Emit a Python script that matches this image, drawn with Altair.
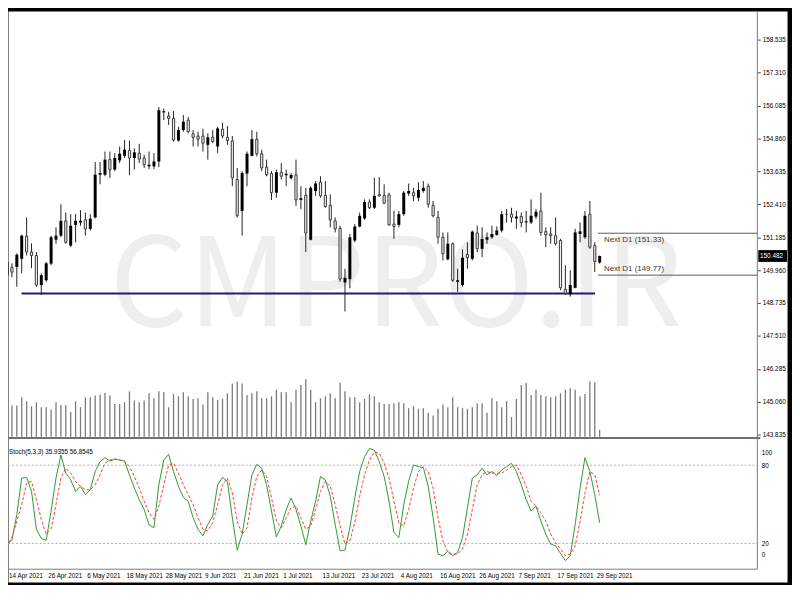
import altair as alt
import pandas as pd

# ---------------- data (GBPJPY, D1) ----------------
OPEN = [149.77, 150.06, 150.07, 150.38, 151.22, 150.63, 150.50, 149.40, 149.58, 150.20,
        151.09, 151.24, 151.79, 150.87, 151.64, 151.73, 151.83, 151.49, 151.92, 153.51,
        153.51, 154.07, 153.70, 154.04, 154.21, 154.41, 154.13, 154.31, 154.13, 153.82,
        153.82, 154.00, 155.83, 155.69, 155.60, 154.78, 155.17, 155.54, 155.03, 154.95,
        154.95, 154.62, 154.90, 154.56, 155.20, 154.90, 154.77, 153.33, 152.16, 153.55,
        154.21, 154.83, 154.29, 153.79, 153.55, 152.84, 153.60, 153.49, 153.38, 153.50,
        152.57, 152.74, 151.09, 152.90, 153.23, 152.74, 152.37, 151.79, 151.51, 149.50,
        149.62, 151.06, 151.58, 151.88, 152.49, 152.28, 152.77, 152.74, 152.76, 151.67,
        151.64, 152.04, 152.81, 152.84, 152.65, 152.90, 153.08, 152.37, 151.92, 151.18,
        150.36, 150.94, 149.52, 149.40, 150.54, 150.38, 151.34, 150.75, 151.09, 151.18,
        151.27, 151.43, 152.03, 152.04, 151.88, 151.95, 151.73, 151.73, 151.95, 152.16,
        151.39, 151.30, 151.24, 151.06, 149.24, 149.06, 149.30, 151.30, 151.18, 152.04,
        150.87, 150.24]
HIGH = [150.43, 150.21, 150.58, 151.28, 151.92, 150.95, 150.63, 149.83, 150.26, 151.24,
        151.55, 152.41, 152.10, 152.04, 152.04, 152.19, 152.10, 152.04, 153.98, 153.98,
        154.37, 154.37, 154.31, 154.56, 154.80, 154.78, 154.49, 154.66, 154.25, 154.37,
        154.31, 156.03, 155.97, 155.85, 155.88, 155.29, 155.73, 155.66, 155.17, 155.11,
        155.22, 155.05, 155.17, 155.29, 155.44, 155.32, 154.95, 153.76, 153.64, 154.37,
        155.17, 155.11, 154.44, 154.07, 153.64, 153.70, 153.94, 153.70, 153.57, 154.07,
        153.08, 153.02, 153.08, 153.27, 153.45, 153.27, 152.78, 151.92, 151.61, 150.01,
        151.30, 151.67, 152.10, 152.59, 152.59, 153.39, 153.42, 153.15, 152.84, 152.16,
        152.16, 152.90, 153.18, 153.02, 153.23, 153.27, 153.18, 152.53, 152.16, 151.36,
        151.36, 150.99, 150.01, 150.73, 150.99, 151.43, 151.61, 151.55, 151.36, 151.61,
        151.58, 152.16, 152.23, 152.28, 152.16, 152.10, 152.16, 152.59, 152.23, 152.84,
        151.55, 151.55, 151.92, 151.12, 150.14, 149.95, 151.49, 151.73, 152.16, 152.53,
        150.99, 150.50]
LOW = [149.51, 149.69, 149.34, 149.84, 150.50, 150.03, 149.34, 149.03, 149.52, 150.14,
       150.94, 151.18, 150.94, 150.81, 150.99, 151.61, 151.24, 151.43, 151.88, 153.15,
       153.45, 153.39, 153.64, 153.94, 154.13, 153.49, 153.70, 153.94, 153.76, 153.72,
       153.72, 153.79, 155.54, 155.36, 154.74, 154.74, 155.11, 155.05, 154.56, 154.56,
       154.37, 154.07, 154.68, 154.31, 154.86, 154.62, 153.08, 151.92, 151.24, 153.08,
       154.19, 154.19, 153.64, 153.45, 152.57, 152.65, 153.33, 153.08, 153.33, 152.35,
       152.23, 150.63, 151.06, 152.72, 152.65, 152.28, 151.55, 151.36, 149.52, 148.42,
       149.28, 150.99, 151.55, 151.83, 152.23, 152.23, 152.70, 152.41, 151.61, 151.12,
       151.55, 151.98, 152.72, 152.53, 152.53, 152.84, 152.28, 151.92, 150.94, 150.32,
       150.32, 149.52, 149.15, 149.34, 150.01, 150.32, 150.63, 150.44, 150.94, 151.12,
       151.24, 151.36, 151.73, 151.73, 151.49, 151.55, 151.36, 151.67, 151.86, 151.24,
       150.81, 150.94, 150.87, 149.21, 149.03, 148.97, 149.28, 150.99, 151.12, 150.75,
       149.89, 150.20]
CLOSE = [150.25, 149.88, 150.53, 151.24, 150.63, 150.50, 149.40, 149.77, 150.21, 151.18,
         151.24, 151.79, 150.99, 151.61, 151.79, 151.79, 151.49, 151.87, 153.51, 153.57,
         154.07, 153.70, 154.13, 154.29, 154.44, 154.13, 154.34, 154.09, 153.88, 153.88,
         154.00, 155.91, 155.87, 155.60, 154.80, 155.17, 155.48, 155.11, 154.90, 154.83,
         154.68, 154.90, 154.74, 155.23, 154.95, 154.78, 153.39, 151.98, 153.57, 154.29,
         154.83, 154.29, 153.76, 153.51, 152.84, 153.60, 153.45, 153.54, 153.50, 152.57,
         152.63, 151.34, 153.02, 153.18, 152.72, 152.32, 151.83, 151.49, 149.62, 149.67,
         151.18, 151.58, 151.98, 152.49, 152.28, 152.72, 152.72, 152.45, 151.64, 151.58,
         152.04, 152.84, 152.90, 152.72, 152.94, 153.02, 152.41, 151.98, 151.18, 150.57,
         150.94, 149.58, 149.58, 150.42, 150.42, 151.39, 150.75, 151.12, 151.18, 151.30,
         151.43, 152.04, 152.05, 151.92, 151.95, 151.73, 151.77, 151.98, 152.13, 151.36,
         151.27, 151.24, 150.94, 149.30, 149.09, 149.40, 151.36, 151.40, 151.98, 150.81,
         150.28, 150.48]
VOLUME = [35000, 31700, 31700, 40000, 36000, 31000, 35000, 30000, 30000, 27700,
          35000, 32300, 32300, 25000, 36000, 30000, 40000, 40000, 41700, 42700,
          44300, 41700, 33300, 33300, 35000, 46000, 36700, 35000, 36700, 44000,
          39000, 46000, 45000, 30000, 43300, 41000, 45000, 41000, 38300, 39000,
          32700, 45000, 40000, 37300, 38300, 44000, 54000, 56000, 54000, 42300,
          44000, 46000, 39000, 39000, 41000, 47700, 45000, 45000, 35000, 47700,
          52300, 58300, 47700, 35000, 39000, 41000, 44000, 39000, 55000, 46000,
          40000, 40000, 35000, 38300, 43000, 41000, 35000, 33300, 33300, 34000,
          35000, 34000, 29000, 31000, 28300, 29000, 24300, 21700, 28300, 32700,
          30000, 40000, 30000, 29000, 28300, 30000, 34000, 34000, 24300, 39000,
          36000, 30000, 36000, 20000, 38300, 52300, 54300, 42300, 47700, 42300,
          41000, 40000, 41000, 44000, 47700, 49000, 47700, 41000, 43300, 56000,
          55000, 7300]
STOCH_K = [19.5, 22.5, 42.2, 70.1, 70.6, 60.0, 30.9, 23.8, 22.5, 44.8,
           70.1, 87.8, 73.9, 68.8, 60.0, 63.8, 57.4, 61.2, 75.2, 82.7,
           85.8, 83.2, 84.7, 84.0, 83.2, 72.6, 62.5, 53.6, 46.0, 34.2,
           32.1, 65.0, 84.0, 88.3, 75.2, 63.8, 55.4, 52.4, 39.7, 30.9,
           25.8, 34.6, 41.0, 65.0, 70.6, 67.6, 39.7, 14.9, 27.0, 49.8,
           72.6, 80.7, 77.7, 65.0, 44.8, 25.0, 33.4, 46.0, 54.9, 46.0,
           33.4, 19.0, 37.0, 52.4, 71.4, 68.8, 56.2, 34.6, 14.4, 14.9,
           32.1, 54.9, 75.2, 86.5, 92.9, 91.6, 82.8, 71.4, 52.4, 28.3,
           24.5, 49.8, 67.6, 80.2, 78.9, 78.2, 63.8, 39.7, 11.9, 10.6,
           13.9, 10.6, 13.1, 24.5, 47.3, 70.1, 72.6, 77.7, 72.6, 75.2,
           72.1, 76.4, 78.9, 81.5, 75.2, 65.0, 53.6, 44.8, 48.6, 37.2,
           27.0, 19.5, 18.2, 12.4, 6.8, 10.6, 34.6, 62.5, 85.8, 75.2,
           57.4, 35.9]
STOCH_D = [17.4, 24.5, 37.2, 49.8, 66.3, 67.6, 53.6, 38.4, 27.1, 30.9,
           49.8, 70.1, 77.7, 73.9, 67.6, 63.8, 61.2, 61.2, 65.0, 72.6,
           81.5, 84.0, 84.7, 84.0, 82.8, 78.9, 71.4, 62.5, 52.4, 43.5,
           38.4, 48.6, 65.0, 80.2, 81.5, 73.9, 65.0, 57.4, 49.8, 39.7,
           30.9, 29.6, 35.9, 49.8, 65.0, 70.1, 58.7, 37.2, 27.1, 32.1,
           54.9, 71.4, 76.4, 71.4, 54.9, 37.2, 32.1, 39.7, 47.3, 48.6,
           39.7, 30.9, 33.4, 46.0, 60.0, 67.6, 63.8, 49.8, 33.4, 19.5,
           22.0, 35.9, 56.2, 72.6, 84.0, 90.3, 89.1, 81.5, 70.1, 52.4,
           35.9, 33.4, 46.0, 62.5, 75.2, 78.9, 75.2, 62.5, 39.7, 22.0,
           13.1, 11.9, 11.9, 15.7, 27.1, 46.0, 65.0, 72.6, 75.2, 73.9,
           73.9, 73.9, 76.4, 78.9, 80.2, 72.6, 63.8, 52.4, 48.6, 43.5,
           37.2, 27.1, 20.7, 15.7, 10.6, 11.9, 18.1, 37.2, 58.7, 75.2,
           72.6, 56.9]
DATE_LABELS = ["14 Apr 2021", "26 Apr 2021", "6 May 2021", "18 May 2021", "28 May 2021",
               "9 Jun 2021", "21 Jun 2021", "1 Jul 2021", "13 Jul 2021", "23 Jul 2021",
               "4 Aug 2021", "16 Aug 2021", "26 Aug 2021", "7 Sep 2021", "17 Sep 2021",
               "29 Sep 2021"]
LABEL_STEP = 8
PRICE_TICKS = [158.535, 157.310, 156.085, 154.860, 153.635, 152.410, 151.185,
               149.960, 148.735, 147.510, 146.285, 145.060, 143.835]
NEXT_D1 = [151.33, 149.77]
SUPPORT = 149.09
LAST_PRICE = 150.482
STOCH_LEVELS = [80, 20]
STOCH_LAST = [35.9355, 56.8545]
WATERMARK = "CMPRO.IR"

# ---------------- frames ----------------
n = len(OPEN)
df = pd.DataFrame({"i": list(range(n)), "open": OPEN, "high": HIGH, "low": LOW,
                   "close": CLOSE, "volume": VOLUME, "k": STOCH_K, "d": STOCH_D})
one = pd.DataFrame({"o": [0]})
dates = pd.DataFrame({"i": [k * LABEL_STEP for k in range(len(DATE_LABELS))], "t": DATE_LABELS})

FONT = "Liberation Sans, Arial, sans-serif"
WM_FONT = "Noto Sans CJK JP, Liberation Sans, sans-serif"
SMALL = 6.4
W, H = 787, 577
AXIS_I = 153.19      # index position of the price axis line
X_END = 159.26

xs = alt.Scale(domain=[0.2, X_END], nice=False, zero=False, padding=0)
ps = alt.Scale(domain=[138.345, 159.605], nice=False, zero=False)
ss = alt.Scale(domain=[-9.643, 428.47], nice=False, zero=False)
vs = alt.Scale(domain=[-146700, 430300], nice=False, zero=False)

x_axis = alt.Axis(values=[k * LABEL_STEP for k in range(len(DATE_LABELS))], labels=False,
                  orient="bottom", offset=-13, domain=False, grid=False, tickSize=3,
                  tickColor="#444444", title=None)
price_axis = alt.Axis(values=PRICE_TICKS, format=".3f", orient="right", offset=-30,
                      domain=False, grid=False, tickSize=3, tickColor="#444444",
                      labelPadding=2, labelFont=FONT, labelFontSize=SMALL, labelColor="#000000",
                      labelFlush=False, labelOverlap=False, title=None)
stoch_axis = alt.Axis(values=[89.8, 80, 20, 11.6],
                      labelExpr="datum.value > 85 ? '100' : (datum.value < 15 ? '0' : format(datum.value, 'd'))",
                      orient="right", offset=-30, domain=False, grid=False, ticks=False,
                      labelPadding=4, labelFont=FONT, labelFontSize=SMALL, labelColor="#000000",
                      labelFlush=False, labelOverlap=False, title=None)

X = lambda f: alt.X(f, scale=xs, axis=None)
XD = lambda v: alt.XDatum(v, scale=xs, axis=None)

watermark = alt.Chart(one).mark_text(
    text=WATERMARK, font=WM_FONT, fontSize=124, color="#eeeeee", align="center", baseline="middle"
).encode(x=XD(79.43), y=alt.YDatum(149.25, scale=ps, axis=None))

volume = alt.Chart(df).mark_rule(color="#7a7a7a", strokeWidth=1.3).encode(
    x=alt.X("i:Q", scale=xs, axis=x_axis),
    y=alt.Y("volume:Q", scale=vs, axis=None),
    y2=alt.Y2Datum(0),
)

date_txt = alt.Chart(dates).mark_text(
    font=FONT, fontSize=SMALL, color="#000000", align="left", baseline="top", dx=2
).encode(x=X("i:Q"), y=alt.value(568), text="t:N")

levels = alt.Chart(pd.DataFrame({"lvl": STOCH_LEVELS})).mark_rule(
    color="#b0b0b0", strokeDash=[2, 2], strokeWidth=1
).encode(y=alt.Y("lvl:Q", scale=ss, axis=None), x=XD(0.2), x2=alt.X2Datum(AXIS_I))

frame_v = alt.Chart(one).mark_rule(color="#7a7a7a", strokeWidth=1).encode(
    x=alt.value(757), y=alt.value(0), y2=alt.value(564))
frame_b = alt.Chart(one).mark_rule(color="#7a7a7a", strokeWidth=1).encode(
    x=alt.value(0), x2=alt.value(757), y=alt.value(564))
frame_sep = alt.Chart(one).mark_rule(color="#707070", strokeWidth=2).encode(
    x=alt.value(0), x2=alt.value(760), y=alt.value(431.5))

support = alt.Chart(one).mark_rule(color="#1d1d72", strokeWidth=2).encode(
    y=alt.YDatum(SUPPORT, scale=ps, axis=None), x=XD(2.97), x2=alt.X2Datum(120.05))

nd = pd.DataFrame({"p": NEXT_D1, "t": ["Next D1 (%.2f)" % p for p in NEXT_D1]})
nd_lines = alt.Chart(nd).mark_rule(color="#5a5a5a", strokeWidth=1).encode(
    y=alt.Y("p:Q", scale=ps, axis=None), x=XD(120.65), x2=alt.X2Datum(AXIS_I))
nd_top = alt.Chart(nd.iloc[[0]]).mark_text(
    font=FONT, fontSize=8, color="#3a3a3a", align="left", baseline="top", dy=3
).encode(x=XD(121.87), y=alt.Y("p:Q", scale=ps, axis=None), text="t:N")
nd_bot = alt.Chart(nd.iloc[[1]]).mark_text(
    font=FONT, fontSize=8, color="#3a3a3a", align="left", baseline="bottom", dy=-2
).encode(x=XD(121.87), y=alt.Y("p:Q", scale=ps, axis=None), text="t:N")

wicks = alt.Chart(df).mark_rule(color="#222222", strokeWidth=1).encode(
    x=X("i:Q"), y=alt.Y("high:Q", scale=ps, axis=price_axis), y2="low:Q")
up = alt.Chart(df).transform_filter("datum.close >= datum.open").mark_bar(
    size=3, color="#000000").encode(
    x=X("i:Q"), y=alt.Y("open:Q", scale=ps, axis=None), y2="close:Q")
down = alt.Chart(df).transform_filter("datum.close < datum.open").mark_bar(
    size=2.2, fill="#f6f0f0", stroke="#3a3a3a", strokeWidth=1).encode(
    x=X("i:Q"), y=alt.Y("open:Q", scale=ps, axis=None), y2="close:Q")

k_line = alt.Chart(df).mark_line(color="#2f9a2f", strokeWidth=1).encode(
    x=X("i:Q"), y=alt.Y("k:Q", scale=ss, axis=stoch_axis))
d_line = alt.Chart(df).mark_line(color="#ff3838", strokeWidth=1, strokeDash=[3, 2]).encode(
    x=X("i:Q"), y=alt.Y("d:Q", scale=ss, axis=None))

stoch_lbl = alt.Chart(one).mark_text(
    text="Stoch(5,3,3) %.4f %.4f" % tuple(STOCH_LAST), font=FONT, fontSize=SMALL,
    color="#000000", align="left", baseline="middle"
).encode(x=XD(0.4), y=alt.YDatum(90.5, scale=ss, axis=None))

tag_df = pd.DataFrame({"p": [LAST_PRICE]})
tag_box = alt.Chart(tag_df).transform_calculate(lo="datum.p - 0.22", hi="datum.p + 0.22").mark_rect(
    color="#000000").encode(
    x=XD(153.39), x2=alt.X2Datum(X_END),
    y=alt.Y("lo:Q", scale=ps, axis=None), y2="hi:Q")
tag_txt = alt.Chart(tag_df).transform_calculate(t="format(datum.p, '.3f')").mark_text(
    font=FONT, fontSize=SMALL, color="#ffffff", align="left", baseline="middle").encode(
    x=XD(153.75), y=alt.Y("p:Q", scale=ps, axis=None), text="t:N")

chart = alt.layer(
    watermark, volume, date_txt, levels, frame_v, frame_b, frame_sep, support, nd_lines, nd_top,
    nd_bot, wicks, up, down, k_line, d_line, stoch_lbl, tag_box, tag_txt
).resolve_scale(y="independent").properties(
    width=W, height=H,
    autosize=alt.AutoSizeParams(type="none"),
    padding={"left": 0, "top": 0, "right": 5, "bottom": 0},
    background="#000000",
).configure_view(fill="#ffffff", stroke="transparent")

chart.save("out.html", embed_options={"renderer": "svg", "actions": False})
